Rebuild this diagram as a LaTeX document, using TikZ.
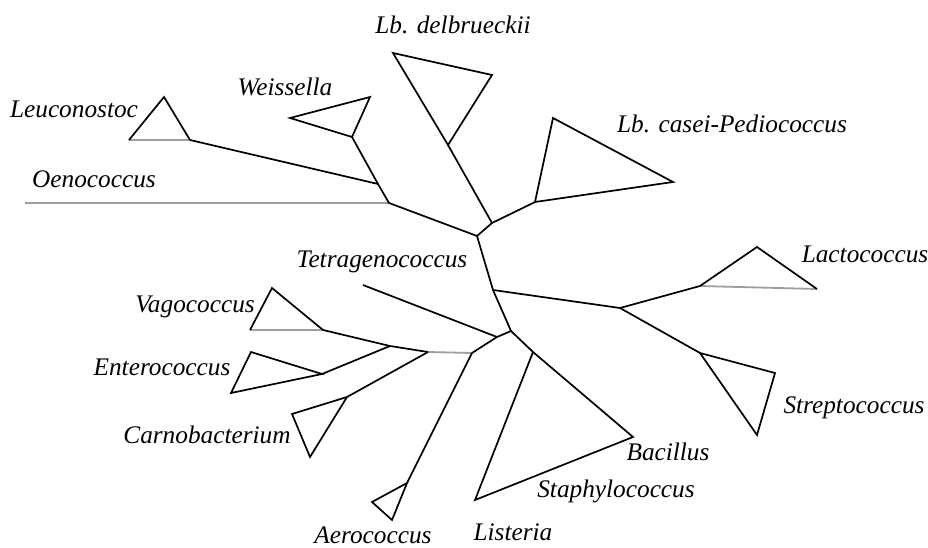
\documentclass[tikz,border=0pt]{standalone}
\usepackage{fontspec}
\setmainfont{Liberation Serif}
\begin{document}
\begin{tikzpicture}[x=1pt,y=-1pt,
  br/.style={line width=1.7pt, black, line join=miter},
  gbr/.style={line width=1.8pt, black!38},
  lab/.style={font=\fontsize{25.3}{28}\selectfont\itshape, inner sep=0pt, anchor=base}]
\useasboundingbox[fill=white] (0,0) rectangle (928,548);
% tree vertices
\coordinate (oe) at (25,203);
\coordinate (o1) at (389,203);
\coordinate (lc) at (378,184);
\coordinate (w1) at (352,137); \coordinate (w2) at (290,118); \coordinate (w3) at (370,97);
\coordinate (l1) at (190,140); \coordinate (l2) at (164,97); \coordinate (l3) at (129,140);
\coordinate (d1) at (448,145); \coordinate (d2) at (393,53); \coordinate (d3) at (492,75);
\coordinate (n1) at (492,223);
\coordinate (c1) at (535,202); \coordinate (c2) at (553,118); \coordinate (c3) at (673,182);
\coordinate (n2) at (477,236);
\coordinate (n3) at (493,290);
\coordinate (n4) at (620,308);
\coordinate (la1) at (700,286); \coordinate (la2) at (757,247); \coordinate (la3) at (817,289);
\coordinate (s1) at (700,353); \coordinate (s2) at (775,373); \coordinate (s3) at (757,435);
\coordinate (n5) at (511,331);
\coordinate (n6) at (497,337);
\coordinate (te) at (363,285);
\coordinate (L) at (472,353);
\coordinate (a1) at (407,483); \coordinate (a2) at (372,502); \coordinate (a3) at (392,520);
\coordinate (m) at (428,352);
\coordinate (k1) at (347,397); \coordinate (k2) at (292,414); \coordinate (k3) at (310,457);
\coordinate (e) at (390,346);
\coordinate (v1) at (323,330); \coordinate (v2) at (272,288); \coordinate (v3) at (250,330);
\coordinate (en1) at (322,374); \coordinate (en2) at (251,352); \coordinate (en3) at (231,393);
\coordinate (b0) at (533,352); \coordinate (bac) at (633,437); \coordinate (lis) at (475,500);
% gray (horizontal) branches
\draw[gbr] (oe) -- (o1);
\draw[gbr] (l3) -- (l1);
\draw[gbr] (v3) -- (v1);
\draw[gbr] (la1) -- (la3);
\draw[gbr] (m) -- (L);
% black branches
\draw[br] (w1) -- (lc) -- (o1) -- (n2);
\draw[br] (l1) -- (lc);
\draw[br] (w1) -- (w2) -- (w3) -- cycle;
\draw[br] (l3) -- (l2) -- (l1);
\draw[br] (d1) -- (d2) -- (d3) -- cycle;
\draw[br] (d1) -- (n1) -- (n2) -- (n3) -- (n5) -- (n6) -- (L);
\draw[br] (n1) -- (c1);
\draw[br] (c1) -- (c2) -- (c3) -- cycle;
\draw[br] (n3) -- (n4) -- (la1);
\draw[br] (la1) -- (la2) -- (la3);
\draw[br] (n4) -- (s1);
\draw[br] (s1) -- (s2) -- (s3) -- cycle;
\draw[br] (te) -- (n6);
\draw[br] (L) -- (a1);
\draw[br] (a1) -- (a2) -- (a3) -- cycle;
\draw[br] (m) -- (k1);
\draw[br] (k1) -- (k2) -- (k3) -- cycle;
\draw[br] (m) -- (e) -- (v1);
\draw[br] (v1) -- (v2) -- (v3);
\draw[br] (e) -- (en1);
\draw[br] (en1) -- (en2) -- (en3) -- cycle;
\draw[br] (n5) -- (b0);
\draw[br] (b0) -- (bac) -- (lis) -- cycle;
% labels
\node[lab] (tdel) at (453,34) {Lb. delbrueckii};
\node[lab] (twei) at (285,96) {Weissella};
\node[lab] (tleu) at (74,118) {Leuconostoc};
\node[lab] (toen) at (94,188) {Oenococcus};
\node[lab] (tcas) at (732,133) {Lb. casei-Pediococcus};
\node[lab] (ttet) at (382,267) {Tetragenococcus};
\node[lab] (tlac) at (865,262) {Lactococcus};
\node[lab] (tstr) at (854,413) {Streptococcus};
\node[lab] (tvag) at (195,312) {Vagococcus};
\node[lab] (tent) at (162,375) {Enterococcus};
\node[lab] (tcar) at (207,443) {Carnobacterium};
\node[lab] (tbac) at (668,460) {Bacillus};
\node[lab] (tsta) at (616,497) {Staphylococcus};
\node[lab] (tlis) at (513,540) {Listeria};
\node[lab] (taer) at (373,543) {Aerococcus};
\end{tikzpicture}
\end{document}
